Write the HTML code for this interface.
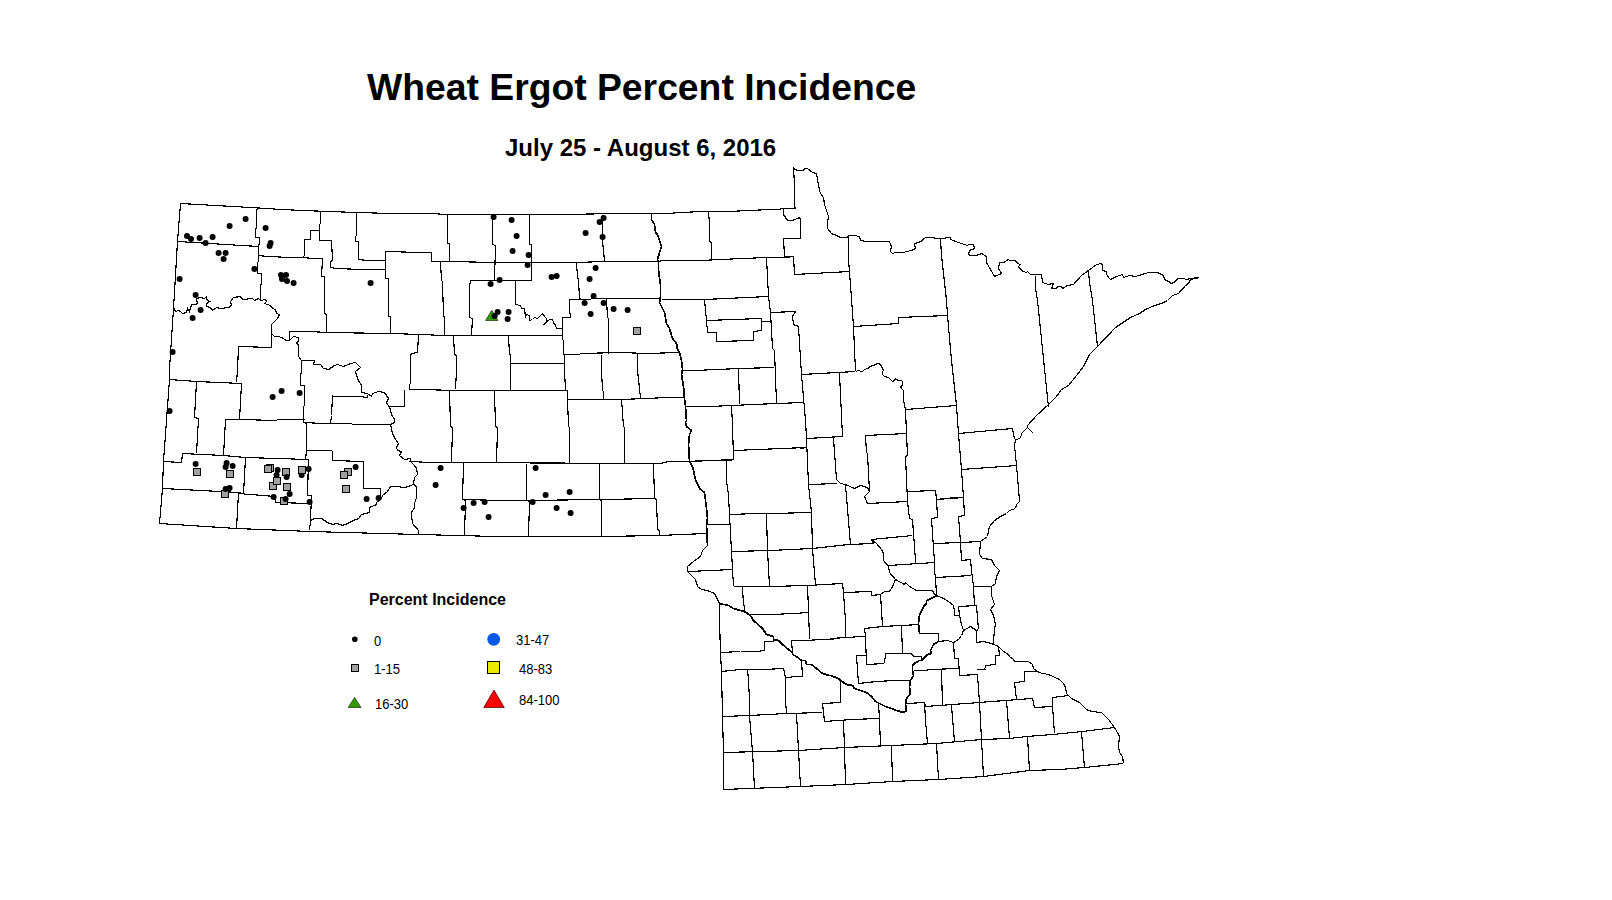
<!DOCTYPE html>
<html><head><meta charset="utf-8"><style>
html,body{margin:0;padding:0;background:#fff;width:1612px;height:900px;overflow:hidden}
.n{font-size:14px;transform:scaleX(0.93);transform-origin:0 0}
.t{position:absolute;font-family:"Liberation Sans",sans-serif;white-space:nowrap;color:#000;line-height:1}
</style></head><body>
<div class="t" id="title" style="left:367px;top:69px;font-size:37.3px;font-weight:bold">Wheat Ergot Percent Incidence</div>
<div class="t" id="sub" style="left:505px;top:136px;font-size:24px;font-weight:bold">July 25 - August 6, 2016</div>
<div class="t" id="lt" style="left:369px;top:592px;font-size:16px;font-weight:bold">Percent Incidence</div>
<div class="t n" style="left:373.6px;top:634px">0</div>
<div class="t n" style="left:374px;top:661.5px">1-15</div>
<div class="t n" style="left:375px;top:697px">16-30</div>
<div class="t n" style="left:516.3px;top:633px">31-47</div>
<div class="t n" style="left:518.7px;top:662px">48-83</div>
<div class="t n" style="left:518.6px;top:693px">84-100</div>
<svg style="position:absolute;left:0;top:0" width="1612" height="900" viewBox="0 0 1612 900">
<path d="M180.5 203.5 L250.5 207.5 L281.5 209.5 L302.5 210.5 L328.5 211.5 L356.5 212.5 L391.5 213.5 L430.5 213.5 L447.5 214.5 L560.5 214.5 L620.5 213.5 L665.5 213.5 L700.5 211.5 L728.5 211.5 L770.5 209.5 L777.5 209.5 L783.5 208.5 L795.5 208.5 M180.5 203.5 L177.5 241.5 L173.5 308.5 L169.5 368.5 L169.5 379.5 L163.5 461.5 L162.5 488.5 L159.5 523.5 M159.5 523.5 L236.5 528.5 L310.5 531.5 L418.5 534.5 L496.5 536.5 L601.5 536.5 L660.5 535.5 L680.5 534.5 L707.5 533.5 M707.5 545.5 L702.5 550.5 L700.5 556.5 L693.5 561.5 L687.5 566.5 L687.5 571.5 L695.5 579.5 L697.5 586.5 L701.5 589.5 L707.5 590.5 L714.5 593.5 L717.5 599.5 L719.5 603.5 M719.5 603.5 L719.5 620.5 L720.5 652.5 L721.5 671.5 L722.5 716.5 L723.5 752.5 L723.5 789.5 M723.5 789.5 L800.5 786.5 L846.5 784.5 L892.5 781.5 L938.5 779.5 L983.5 776.5 L1029.5 770.5 L1059.5 769.5 L1084.5 767.5 L1123.5 763.5 M963.5 630.5 L970.5 626.5 L976.5 630.5 L978.5 629.5 M976.5 630.5 L976.5 642.5 L983.5 641.5 L991.5 643.5 L998.5 646.5 L1003.5 651.5 L1008.5 654.5 L1009.5 656.5 L1013.5 659.5 L1014.5 661.5 L1028.5 661.5 L1032.5 664.5 L1033.5 668.5 L1038.5 672.5 L1048.5 674.5 L1059.5 679.5 L1063.5 683.5 L1065.5 687.5 L1066.5 693.5 L1071.5 698.5 L1079.5 702.5 L1086.5 709.5 L1091.5 711.5 L1101.5 712.5 L1108.5 719.5 L1114.5 727.5 L1118.5 734.5 L1119.5 736.5 L1118.5 745.5 L1119.5 752.5 L1122.5 756.5 L1123.5 763.5 M993.5 643.5 L993.5 641.5 L994.5 629.5 L995.5 624.5 L993.5 615.5 L990.5 609.5 L994.5 604.5 L991.5 595.5 L991.5 586.5 L995.5 583.5 L996.5 576.5 L999.5 570.5 L994.5 565.5 L991.5 559.5 L982.5 558.5 L979.5 554.5 L980.5 541.5 L987.5 536.5 L989.5 526.5 L994.5 520.5 L1000.5 516.5 L1006.5 513.5 L1009.5 510.5 L1015.5 508.5 L1016.5 504.5 L1019.5 501.5 L1019.5 500.5 L1016.5 465.5 L1014.5 445.5 L1015.5 439.5 L1020.5 438.5 L1021.5 433.5 L1027.5 427.5 L1030.5 430.5 L1033.5 433.5 M1027.5 427.5 L1027.5 425.5 L1036.5 415.5 L1048.5 404.5 L1056.5 396.5 L1061.5 389.5 L1068.5 385.5 L1076.5 375.5 L1083.5 366.5 L1089.5 354.5 L1097.5 346.5 L1115.5 327.5 L1130.5 317.5 L1139.5 313.5 L1145.5 309.5 L1154.5 305.5 L1161.5 303.5 L1167.5 300.5 L1172.5 295.5 L1178.5 293.5 L1185.5 285.5 L1188.5 283.5 L1190.5 279.5 L1199.5 277.5 M795.5 208.5 L794.5 206.5 L794.5 184.5 L793.5 167.5 L794.5 169.5 L798.5 170.5 L803.5 170.5 L804.5 168.5 L807.5 168.5 L812.5 172.5 L816.5 173.5 L819.5 190.5 L820.5 193.5 L823.5 197.5 L824.5 204.5 L828.5 216.5 L827.5 222.5 L827.5 228.5 L831.5 233.5 L836.5 235.5 L840.5 237.5 L847.5 237.5 L848.5 235.5 L854.5 235.5 L859.5 236.5 L860.5 240.5 L865.5 241.5 L889.5 241.5 L891.5 246.5 L890.5 251.5 L892.5 253.5 L895.5 252.5 L903.5 252.5 L906.5 251.5 L911.5 250.5 L915.5 248.5 L914.5 243.5 L918.5 242.5 L922.5 240.5 L923.5 238.5 L926.5 237.5 L934.5 237.5 L934.5 238.5 L940.5 238.5 L950.5 237.5 L950.5 239.5 L958.5 242.5 L967.5 245.5 L968.5 244.5 L973.5 244.5 L974.5 248.5 L969.5 250.5 L968.5 254.5 L970.5 255.5 L976.5 255.5 L981.5 253.5 L986.5 256.5 L986.5 262.5 L990.5 269.5 L994.5 276.5 L1001.5 273.5 L998.5 268.5 L999.5 262.5 L1003.5 262.5 L1008.5 259.5 L1009.5 260.5 L1015.5 260.5 L1017.5 263.5 L1020.5 264.5 L1018.5 266.5 L1020.5 269.5 L1023.5 271.5 L1026.5 272.5 L1027.5 271.5 L1030.5 274.5 L1041.5 274.5 L1042.5 282.5 L1048.5 284.5 L1053.5 283.5 L1051.5 288.5 L1055.5 288.5 L1058.5 286.5 L1061.5 286.5 L1062.5 288.5 L1067.5 285.5 L1073.5 284.5 L1081.5 275.5 L1088.5 270.5 L1096.5 264.5 L1101.5 263.5 L1102.5 265.5 L1102.5 270.5 L1106.5 271.5 L1106.5 274.5 L1109.5 278.5 L1110.5 279.5 L1116.5 276.5 L1122.5 274.5 L1123.5 277.5 L1129.5 275.5 L1135.5 276.5 L1148.5 272.5 L1157.5 272.5 L1163.5 275.5 L1164.5 279.5 L1168.5 281.5 L1171.5 283.5 L1175.5 281.5 L1176.5 279.5 L1178.5 278.5 L1183.5 278.5 L1186.5 279.5 L1190.5 278.5 L1199.5 277.5 M177.5 241.5 L258.5 246.5 M257.5 208.5 L256.5 210.5 L256.5 228.5 L255.5 228.5 L255.5 237.5 L259.5 237.5 L259.5 244.5 L258.5 244.5 L258.5 255.5 L258.5 261.5 L257.5 262.5 L257.5 273.5 L261.5 273.5 L261.5 284.5 L260.5 284.5 L260.5 300.5 M258.5 255.5 L267.5 256.5 L290.5 257.5 L303.5 257.5 L312.5 258.5 L322.5 258.5 M320.5 210.5 L320.5 223.5 L319.5 224.5 L319.5 230.5 L310.5 230.5 L310.5 239.5 L304.5 239.5 L304.5 254.5 L303.5 257.5 M319.5 230.5 L319.5 240.5 L331.5 240.5 L332.5 260.5 L330.5 261.5 L330.5 267.5 L335.5 268.5 L362.5 269.5 L385.5 269.5 M356.5 212.5 L356.5 235.5 L355.5 236.5 L355.5 241.5 L358.5 241.5 L358.5 259.5 L367.5 260.5 L385.5 260.5 M385.5 251.5 L385.5 278.5 L388.5 278.5 L388.5 292.5 L388.5 316.5 L390.5 316.5 L390.5 333.5 M385.5 251.5 L420.5 252.5 L431.5 252.5 L431.5 261.5 L449.5 261.5 L494.5 262.5 L531.5 262.5 L576.5 262.5 L604.5 261.5 L620.5 261.5 L657.5 261.5 M322.5 258.5 L321.5 276.5 L324.5 276.5 L324.5 313.5 L326.5 314.5 L326.5 332.5 M289.5 340.5 L289.5 331.5 L310.5 331.5 L326.5 332.5 L390.5 333.5 L420.5 334.5 L443.5 335.5 L471.5 335.5 L508.5 335.5 L562.5 335.5 M173.5 307.5 L175.5 311.5 L178.5 310.5 L180.5 311.5 L182.5 313.5 L186.5 312.5 L187.5 308.5 L189.5 311.5 L191.5 304.5 L194.5 304.5 L196.5 304.5 L197.5 302.5 L196.5 300.5 L196.5 298.5 L200.5 297.5 L204.5 298.5 L206.5 296.5 L206.5 299.5 L209.5 301.5 L206.5 303.5 L206.5 306.5 L210.5 307.5 L212.5 310.5 L216.5 307.5 L220.5 308.5 L228.5 307.5 L231.5 305.5 L230.5 301.5 L233.5 297.5 L240.5 296.5 L242.5 299.5 L252.5 298.5 L254.5 300.5 L258.5 298.5 L260.5 300.5 L265.5 299.5 L266.5 301.5 L264.5 303.5 L270.5 305.5 L272.5 308.5 L275.5 309.5 L276.5 313.5 L279.5 314.5 L277.5 318.5 L275.5 320.5 L271.5 324.5 L271.5 333.5 L274.5 336.5 L278.5 336.5 L281.5 337.5 L286.5 340.5 L289.5 340.5 L293.5 336.5 L298.5 337.5 L298.5 341.5 L296.5 342.5 L298.5 345.5 L298.5 356.5 L301.5 360.5 L314.5 360.5 L313.5 364.5 L320.5 364.5 L323.5 368.5 L328.5 369.5 L334.5 365.5 L337.5 364.5 L343.5 366.5 L350.5 363.5 L355.5 362.5 L360.5 367.5 L355.5 371.5 L356.5 375.5 L358.5 380.5 L361.5 385.5 L361.5 392.5 L367.5 393.5 L371.5 396.5 L372.5 393.5 L378.5 391.5 L384.5 392.5 L388.5 398.5 L386.5 402.5 L389.5 407.5 L390.5 409.5 L391.5 414.5 L394.5 419.5 L394.5 422.5 L390.5 424.5 L391.5 428.5 L392.5 433.5 L394.5 437.5 L395.5 439.5 L398.5 443.5 L396.5 447.5 L397.5 450.5 L401.5 451.5 L399.5 455.5 L404.5 459.5 L410.5 458.5 L410.5 461.5 L414.5 465.5 L416.5 468.5 L417.5 474.5 L414.5 477.5 L413.5 484.5 L405.5 487.5 L395.5 486.5 L390.5 486.5 L387.5 491.5 L382.5 495.5 L381.5 498.5 L376.5 502.5 L376.5 504.5 L369.5 507.5 L369.5 512.5 L361.5 514.5 L358.5 518.5 L353.5 520.5 L347.5 523.5 L342.5 525.5 L337.5 523.5 L332.5 524.5 L327.5 522.5 L321.5 518.5 L314.5 518.5 L310.5 520.5 M271.5 324.5 L271.5 347.5 L238.5 346.5 L237.5 370.5 L236.5 382.5 M301.5 360.5 L301.5 373.5 L300.5 373.5 L300.5 385.5 L304.5 385.5 L304.5 405.5 L303.5 406.5 L303.5 422.5 L306.5 423.5 L306.5 445.5 L306.5 450.5 L305.5 459.5 M418.5 334.5 L417.5 352.5 L411.5 353.5 L410.5 355.5 L410.5 383.5 L409.5 384.5 L409.5 389.5 L420.5 389.5 L456.5 390.5 L510.5 390.5 L567.5 390.5 M447.5 214.5 L447.5 243.5 L449.5 243.5 L449.5 261.5 M492.5 214.5 L492.5 244.5 L495.5 245.5 L494.5 280.5 M529.5 214.5 L529.5 244.5 L531.5 244.5 L531.5 280.5 M470.5 280.5 L531.5 280.5 M470.5 280.5 L469.5 286.5 L469.5 317.5 L472.5 318.5 L471.5 335.5 M440.5 262.5 L441.5 280.5 L442.5 281.5 L443.5 316.5 L444.5 316.5 L444.5 335.5 M515.5 280.5 L515.5 304.5 L520.5 305.5 L521.5 308.5 L524.5 308.5 L525.5 317.5 L526.5 314.5 L529.5 315.5 L529.5 320.5 L532.5 319.5 L534.5 317.5 L537.5 318.5 L540.5 315.5 L542.5 313.5 L544.5 316.5 L546.5 318.5 L546.5 322.5 L543.5 324.5 L549.5 319.5 L552.5 319.5 L553.5 322.5 L555.5 325.5 L556.5 328.5 L562.5 328.5 M562.5 328.5 L562.5 317.5 L570.5 317.5 L570.5 313.5 L569.5 313.5 L569.5 299.5 L590.5 299.5 L591.5 298.5 L660.5 298.5 M562.5 328.5 L562.5 339.5 L563.5 340.5 L563.5 343.5 L563.5 354.5 L579.5 354.5 L580.5 353.5 L620.5 352.5 L646.5 353.5 L679.5 352.5 M576.5 262.5 L577.5 276.5 L578.5 280.5 L579.5 297.5 L580.5 299.5 M602.5 214.5 L602.5 240.5 L604.5 261.5 M606.5 299.5 L607.5 317.5 L608.5 318.5 L608.5 353.5 M453.5 335.5 L454.5 354.5 L456.5 355.5 L456.5 370.5 L455.5 389.5 M508.5 335.5 L509.5 354.5 L510.5 354.5 L510.5 363.5 L510.5 390.5 M510.5 363.5 L564.5 363.5 M564.5 354.5 L564.5 370.5 L565.5 390.5 M601.5 354.5 L601.5 370.5 L602.5 390.5 L603.5 391.5 L603.5 399.5 M637.5 353.5 L637.5 370.5 L639.5 388.5 L640.5 398.5 M567.5 390.5 L567.5 399.5 L621.5 399.5 L668.5 397.5 L683.5 397.5 M682.5 370.5 L694.5 370.5 L739.5 368.5 L774.5 367.5 M685.5 406.5 L710.5 406.5 L731.5 405.5 L776.5 403.5 L803.5 402.5 M169.5 379.5 L196.5 381.5 L241.5 383.5 M241.5 383.5 L239.5 419.5 M196.5 381.5 L194.5 417.5 L198.5 418.5 L196.5 453.5 M225.5 419.5 L239.5 419.5 L276.5 420.5 L277.5 419.5 L304.5 419.5 M225.5 419.5 L223.5 455.5 M182.5 453.5 L223.5 455.5 L245.5 457.5 L308.5 459.5 M182.5 453.5 L181.5 462.5 L163.5 461.5 M245.5 457.5 L243.5 493.5 M162.5 488.5 L238.5 492.5 L243.5 493.5 M238.5 492.5 L236.5 528.5 M238.5 493.5 L274.5 496.5 L275.5 502.5 L310.5 503.5 M308.5 459.5 L307.5 495.5 L311.5 495.5 L310.5 520.5 L309.5 530.5 M306.5 450.5 L331.5 450.5 L332.5 451.5 L332.5 460.5 L363.5 461.5 L363.5 488.5 L380.5 488.5 L380.5 497.5 M404.5 389.5 L404.5 406.5 L389.5 406.5 M303.5 422.5 L323.5 423.5 L330.5 423.5 L351.5 423.5 L352.5 424.5 L390.5 424.5 M332.5 395.5 L331.5 415.5 L330.5 423.5 M332.5 396.5 L363.5 396.5 L363.5 397.5 L367.5 397.5 L367.5 394.5 M409.5 461.5 L430.5 462.5 L660.5 463.5 L668.5 461.5 L689.5 461.5 M413.5 484.5 L416.5 486.5 L416.5 497.5 L414.5 503.5 L414.5 507.5 L411.5 512.5 L411.5 515.5 L412.5 523.5 L418.5 530.5 L418.5 534.5 M449.5 390.5 L450.5 426.5 L452.5 427.5 L451.5 462.5 M494.5 391.5 L495.5 426.5 L497.5 427.5 L496.5 463.5 M567.5 399.5 L568.5 426.5 L569.5 427.5 L569.5 463.5 M621.5 399.5 L623.5 426.5 L624.5 427.5 L624.5 462.5 M463.5 463.5 L462.5 499.5 L465.5 500.5 L464.5 535.5 M526.5 463.5 L526.5 500.5 L529.5 501.5 L528.5 536.5 M599.5 463.5 L599.5 499.5 L601.5 500.5 L601.5 536.5 M653.5 463.5 L654.5 498.5 L656.5 499.5 L657.5 529.5 L659.5 530.5 L659.5 535.5 M462.5 499.5 L502.5 500.5 L526.5 500.5 L599.5 499.5 L656.5 498.5 M783.5 208.5 L783.5 214.5 L787.5 220.5 L792.5 220.5 L799.5 217.5 L800.5 219.5 L800.5 238.5 L783.5 238.5 L784.5 256.5 L793.5 256.5 L794.5 274.5 L849.5 271.5 M848.5 235.5 L848.5 260.5 L849.5 271.5 L853.5 326.5 L855.5 371.5 M940.5 238.5 L941.5 255.5 L946.5 300.5 L947.5 315.5 L951.5 360.5 L956.5 405.5 L958.5 433.5 L961.5 469.5 L963.5 497.5 M853.5 326.5 L898.5 323.5 L898.5 317.5 L947.5 315.5 M708.5 211.5 L709.5 223.5 L709.5 241.5 L711.5 242.5 L711.5 259.5 M657.5 261.5 L663.5 260.5 L700.5 260.5 L720.5 259.5 L766.5 257.5 L784.5 257.5 L793.5 256.5 M766.5 257.5 L768.5 296.5 L770.5 312.5 L772.5 348.5 L774.5 350.5 L776.5 403.5 M661.5 299.5 L695.5 299.5 L704.5 299.5 L768.5 296.5 M704.5 299.5 L706.5 320.5 L707.5 332.5 L716.5 332.5 L716.5 341.5 L753.5 340.5 L753.5 331.5 L761.5 330.5 L761.5 318.5 L706.5 320.5 M761.5 321.5 L770.5 321.5 M770.5 312.5 L795.5 311.5 L792.5 316.5 L793.5 324.5 L798.5 326.5 L801.5 374.5 L805.5 420.5 M855.5 372.5 L857.5 370.5 L862.5 371.5 L864.5 369.5 L867.5 368.5 L870.5 366.5 L875.5 364.5 L877.5 363.5 L879.5 363.5 L881.5 366.5 L883.5 370.5 L882.5 371.5 L882.5 374.5 L884.5 376.5 L888.5 377.5 L892.5 381.5 L894.5 380.5 L895.5 378.5 L896.5 379.5 L898.5 380.5 L901.5 380.5 L902.5 381.5 L902.5 385.5 L900.5 386.5 L901.5 388.5 L903.5 390.5 L903.5 400.5 L905.5 409.5 L906.5 433.5 M905.5 409.5 L956.5 405.5 M958.5 433.5 L1012.5 428.5 L1014.5 439.5 M961.5 469.5 L1016.5 465.5 M801.5 374.5 L855.5 371.5 M738.5 368.5 L739.5 404.5 M731.5 405.5 L732.5 424.5 L733.5 459.5 L689.5 461.5 M733.5 450.5 L806.5 447.5 M839.5 373.5 L842.5 436.5 L806.5 438.5 M805.5 420.5 L806.5 438.5 L808.5 484.5 L811.5 512.5 L812.5 548.5 L815.5 584.5 M800.5 448.5 L806.5 447.5 M689.5 461.5 L702.5 460.5 L731.5 460.5 M726.5 460.5 L726.5 480.5 L728.5 495.5 L729.5 514.5 L731.5 551.5 L733.5 586.5 M833.5 438.5 L836.5 479.5 L840.5 483.5 L845.5 484.5 L854.5 488.5 L860.5 485.5 L867.5 487.5 L869.5 491.5 L864.5 496.5 L867.5 503.5 M808.5 484.5 L837.5 483.5 M845.5 485.5 L850.5 544.5 M865.5 435.5 L906.5 433.5 M865.5 435.5 L866.5 452.5 L867.5 453.5 L869.5 491.5 M906.5 433.5 L907.5 455.5 L905.5 456.5 L907.5 501.5 L909.5 518.5 L912.5 519.5 L915.5 560.5 L915.5 563.5 M867.5 503.5 L907.5 501.5 M908.5 491.5 L935.5 490.5 L936.5 499.5 L963.5 497.5 M936.5 499.5 L937.5 517.5 L931.5 518.5 L934.5 562.5 L934.5 570.5 L935.5 577.5 L936.5 595.5 M706.5 524.5 L729.5 524.5 M729.5 514.5 L756.5 513.5 L770.5 513.5 L811.5 512.5 M766.5 514.5 L767.5 550.5 L769.5 586.5 M731.5 551.5 L770.5 550.5 L812.5 548.5 L848.5 544.5 L873.5 543.5 L871.5 539.5 L912.5 535.5 M871.5 539.5 L876.5 543.5 L881.5 549.5 L883.5 553.5 L883.5 560.5 L888.5 566.5 L889.5 572.5 L895.5 579.5 L904.5 584.5 L905.5 582.5 L909.5 586.5 L916.5 590.5 L923.5 590.5 L932.5 590.5 L934.5 594.5 L936.5 595.5 M888.5 565.5 L934.5 562.5 M688.5 571.5 L732.5 569.5 M733.5 586.5 L770.5 586.5 L807.5 585.5 L842.5 583.5 M742.5 587.5 L743.5 604.5 L744.5 606.5 L744.5 611.5 M750.5 614.5 L771.5 614.5 L793.5 613.5 L808.5 612.5 M807.5 585.5 L808.5 610.5 L809.5 639.5 M842.5 583.5 L843.5 592.5 L845.5 620.5 L845.5 637.5 M843.5 592.5 L871.5 591.5 L871.5 595.5 L880.5 594.5 L884.5 591.5 L889.5 591.5 L892.5 586.5 L895.5 579.5 M936.5 595.5 L943.5 598.5 L948.5 601.5 L953.5 605.5 L954.5 610.5 L954.5 615.5 L959.5 615.5 L961.5 624.5 L963.5 630.5 L961.5 635.5 L958.5 639.5 L953.5 642.5 L947.5 640.5 L938.5 641.5 M935.5 577.5 L971.5 575.5 M963.5 497.5 L964.5 515.5 L958.5 516.5 L960.5 542.5 L961.5 560.5 L970.5 559.5 L971.5 570.5 L973.5 586.5 L974.5 605.5 M973.5 586.5 L991.5 586.5 M958.5 606.5 L976.5 605.5 L978.5 629.5 M958.5 606.5 L959.5 615.5 M933.5 543.5 L960.5 542.5 L980.5 541.5 M880.5 594.5 L882.5 626.5 M830.5 638.5 L861.5 636.5 L865.5 636.5 M864.5 628.5 L882.5 626.5 L901.5 625.5 L919.5 624.5 M882.5 620.5 L882.5 626.5 M864.5 628.5 L865.5 636.5 L866.5 664.5 L884.5 663.5 L885.5 653.5 L902.5 653.5 L911.5 653.5 L913.5 656.5 L921.5 656.5 L921.5 660.5 M901.5 625.5 L902.5 653.5 M856.5 655.5 L866.5 655.5 M856.5 655.5 L858.5 683.5 L876.5 681.5 L894.5 680.5 L910.5 680.5 M913.5 670.5 L924.5 670.5 L930.5 669.5 L958.5 668.5 M953.5 642.5 L954.5 658.5 L958.5 658.5 L959.5 675.5 L977.5 674.5 L979.5 702.5 L981.5 739.5 L983.5 776.5 M976.5 669.5 L985.5 669.5 M998.5 646.5 L999.5 655.5 L995.5 655.5 L995.5 664.5 L985.5 665.5 L984.5 670.5 M791.5 640.5 L803.5 640.5 L824.5 639.5 L840.5 638.5 M791.5 640.5 L792.5 652.5 M740.5 651.5 L756.5 651.5 L764.5 650.5 L764.5 641.5 L773.5 641.5 L773.5 636.5 M720.5 652.5 L740.5 651.5 M721.5 671.5 L740.5 669.5 L764.5 669.5 L783.5 668.5 L785.5 677.5 L797.5 676.5 L802.5 676.5 L801.5 660.5 M747.5 669.5 L748.5 680.5 L749.5 700.5 L749.5 715.5 L752.5 751.5 L754.5 788.5 M785.5 677.5 L785.5 700.5 L786.5 713.5 M722.5 716.5 L749.5 715.5 L786.5 713.5 L822.5 712.5 M796.5 713.5 L798.5 750.5 L800.5 786.5 M840.5 681.5 L840.5 702.5 L822.5 703.5 L824.5 721.5 L851.5 719.5 L879.5 718.5 M843.5 721.5 L844.5 747.5 L845.5 784.5 M723.5 752.5 L798.5 750.5 L844.5 747.5 L891.5 745.5 L936.5 743.5 L981.5 739.5 L1009.5 738.5 L1026.5 736.5 L1052.5 734.5 L1082.5 731.5 L1114.5 727.5 M878.5 702.5 L879.5 720.5 L880.5 745.5 M891.5 746.5 L892.5 781.5 M906.5 703.5 L924.5 702.5 L925.5 706.5 L979.5 702.5 L990.5 701.5 L1006.5 700.5 L1017.5 699.5 L1032.5 698.5 L1034.5 707.5 L1052.5 706.5 L1052.5 697.5 L1068.5 695.5 M924.5 702.5 L925.5 720.5 L927.5 743.5 M936.5 743.5 L938.5 779.5 M951.5 705.5 L954.5 741.5 M941.5 669.5 L942.5 705.5 M1006.5 700.5 L1009.5 738.5 M1027.5 736.5 L1029.5 770.5 M1052.5 706.5 L1054.5 733.5 M1081.5 731.5 L1084.5 767.5 M1038.5 671.5 L1024.5 671.5 L1024.5 681.5 L1014.5 682.5 L1016.5 699.5 M940.5 498.5 L963.5 497.5 M1035.5 275.5 L1035.5 288.5 L1037.5 300.5 L1048.5 407.5 M1088.5 270.5 L1089.5 282.5 L1092.5 300.5 L1097.5 346.5" fill="none" stroke="#000" stroke-width="1.15" shape-rendering="crispEdges"/>
<path d="M651.5 213.5 L651.5 219.5 L654.5 224.5 L655.5 232.5 L657.5 234.5 L661.5 246.5 L659.5 252.5 L657.5 259.5 L658.5 262.5 L658.5 269.5 L659.5 278.5 L660.5 284.5 L660.5 290.5 L660.5 296.5 L659.5 302.5 L664.5 312.5 L666.5 323.5 L669.5 328.5 L672.5 338.5 L676.5 343.5 L677.5 349.5 L679.5 352.5 L681.5 360.5 L682.5 369.5 L681.5 374.5 L683.5 386.5 L684.5 398.5 L685.5 406.5 L686.5 420.5 L685.5 422.5 L686.5 426.5 L691.5 430.5 L689.5 434.5 L688.5 444.5 L689.5 461.5 L692.5 466.5 L695.5 479.5 L699.5 488.5 L704.5 492.5 L706.5 508.5 L707.5 518.5 L706.5 524.5 L707.5 545.5 M719.5 603.5 L728.5 605.5 L733.5 608.5 L740.5 610.5 L744.5 611.5 L750.5 615.5 L753.5 620.5 L762.5 628.5 L766.5 634.5 L773.5 636.5 L773.5 639.5 L778.5 640.5 L782.5 644.5 L788.5 649.5 L792.5 652.5 L792.5 654.5 L796.5 656.5 L801.5 660.5 L805.5 660.5 L806.5 664.5 L811.5 664.5 L816.5 668.5 L822.5 673.5 L829.5 675.5 L830.5 675.5 L838.5 678.5 L840.5 680.5 L846.5 684.5 L852.5 685.5 L854.5 688.5 L866.5 692.5 L871.5 696.5 L875.5 701.5 L879.5 703.5 L885.5 706.5 L891.5 708.5 L896.5 710.5 L903.5 712.5 L906.5 710.5 L905.5 703.5 L906.5 698.5 L910.5 693.5 L909.5 686.5 L910.5 680.5 L913.5 675.5 L912.5 670.5 L912.5 665.5 L914.5 663.5 L919.5 660.5 L921.5 660.5 L927.5 654.5 L931.5 653.5 L930.5 650.5 L931.5 648.5 L933.5 644.5 L938.5 641.5 L938.5 633.5 L919.5 633.5 L918.5 623.5 L919.5 614.5 L921.5 611.5 L923.5 606.5 L926.5 603.5 L926.5 600.5 L933.5 597.5 L936.5 595.5" fill="none" stroke="#000" stroke-width="1.7" shape-rendering="crispEdges"/>
<polygon points="491.8,310.3 485.5,320.5 498,320.5" fill="#339900" stroke="#1a3300" stroke-width="0.7"/>
<g fill="#000"><circle cx="301.6" cy="475" r="3"/></g>
<g fill="#a0a0a0" stroke="#000" stroke-width="1" shape-rendering="crispEdges"><rect x="633.5" y="327.5" width="7" height="7"/><rect x="193.5" y="468.5" width="7" height="7"/><rect x="226.5" y="470.5" width="7" height="7"/><rect x="221.5" y="490.5" width="7" height="7"/><rect x="266.5" y="464.5" width="7" height="7"/><rect x="264.5" y="465.5" width="7" height="7"/><rect x="282.5" y="468.5" width="7" height="7"/><rect x="298.5" y="466.5" width="7" height="7"/><rect x="269.5" y="482.5" width="7" height="7"/><rect x="273.5" y="477.5" width="7" height="7"/><rect x="283.5" y="483.5" width="7" height="7"/><rect x="280.5" y="497.5" width="7" height="7"/><rect x="344.5" y="468.5" width="7" height="7"/><rect x="340.5" y="471.5" width="7" height="7"/><rect x="342.5" y="485.5" width="7" height="7"/></g>
<g fill="#000"><circle cx="245.6" cy="219" r="3"/><circle cx="229.6" cy="226" r="3"/><circle cx="187" cy="236" r="3"/><circle cx="191" cy="239" r="3"/><circle cx="199.6" cy="238" r="3"/><circle cx="212.6" cy="237" r="3"/><circle cx="205.6" cy="243" r="3"/><circle cx="265.6" cy="228" r="3"/><circle cx="270.6" cy="243" r="3"/><circle cx="269.6" cy="246" r="3"/><circle cx="218.6" cy="253" r="3"/><circle cx="225.6" cy="253" r="3"/><circle cx="223.6" cy="259" r="3"/><circle cx="254.4" cy="269" r="3"/><circle cx="179.6" cy="279" r="3"/><circle cx="281" cy="275" r="3"/><circle cx="286" cy="275" r="3"/><circle cx="282" cy="279" r="3"/><circle cx="287" cy="281" r="3"/><circle cx="293.6" cy="283" r="3"/><circle cx="370.6" cy="283" r="3"/><circle cx="195.6" cy="295" r="3"/><circle cx="200.6" cy="310" r="3"/><circle cx="192.6" cy="318" r="3"/><circle cx="172.6" cy="352" r="3"/><circle cx="493.6" cy="217" r="3"/><circle cx="511.6" cy="220" r="3"/><circle cx="516.6" cy="236" r="3"/><circle cx="512.6" cy="251" r="3"/><circle cx="528.6" cy="255" r="3"/><circle cx="527.6" cy="265" r="3"/><circle cx="499.6" cy="280" r="3"/><circle cx="490.6" cy="284" r="3"/><circle cx="497.6" cy="312" r="3"/><circle cx="494.6" cy="316" r="3"/><circle cx="508.6" cy="312" r="3"/><circle cx="507.6" cy="319" r="3"/><circle cx="551.6" cy="277" r="3"/><circle cx="556.6" cy="276" r="3"/><circle cx="603.6" cy="218" r="3"/><circle cx="599.6" cy="222" r="3"/><circle cx="585.6" cy="233" r="3"/><circle cx="602.6" cy="237" r="3"/><circle cx="595.6" cy="268" r="3"/><circle cx="589.6" cy="279" r="3"/><circle cx="593.6" cy="296" r="3"/><circle cx="584.6" cy="303" r="3"/><circle cx="603.6" cy="303" r="3"/><circle cx="590.6" cy="314" r="3"/><circle cx="613.6" cy="309" r="3"/><circle cx="627.6" cy="310" r="3"/><circle cx="169.6" cy="411" r="3"/><circle cx="272.6" cy="397" r="3"/><circle cx="281.6" cy="391" r="3"/><circle cx="299.6" cy="393" r="3"/><circle cx="195.6" cy="464" r="3"/><circle cx="226.6" cy="463" r="3"/><circle cx="225.6" cy="467" r="3"/><circle cx="232.6" cy="466" r="3"/><circle cx="277.6" cy="470" r="3"/><circle cx="276.6" cy="475" r="3"/><circle cx="286.6" cy="477" r="3"/><circle cx="308.6" cy="469" r="3"/><circle cx="355.6" cy="467" r="3"/><circle cx="225.6" cy="489" r="3"/><circle cx="229.6" cy="488" r="3"/><circle cx="273.6" cy="497" r="3"/><circle cx="285.6" cy="499" r="3"/><circle cx="289.6" cy="494" r="3"/><circle cx="309.6" cy="502" r="3"/><circle cx="366.6" cy="499" r="3"/><circle cx="378.6" cy="498" r="3"/><circle cx="440.6" cy="468" r="3"/><circle cx="435.6" cy="485" r="3"/><circle cx="463.6" cy="508" r="3"/><circle cx="473.6" cy="503" r="3"/><circle cx="484.6" cy="502" r="3"/><circle cx="488.6" cy="517" r="3"/><circle cx="535.6" cy="468" r="3"/><circle cx="532.6" cy="502" r="3"/><circle cx="545.6" cy="495" r="3"/><circle cx="569.6" cy="492" r="3"/><circle cx="556.6" cy="508" r="3"/><circle cx="570.6" cy="513" r="3"/></g>

<circle cx="354.8" cy="639.3" r="2.8" fill="#000"/>
<rect x="351.5" y="664.5" width="7" height="7" fill="#a0a0a0" stroke="#000" stroke-width="1" shape-rendering="crispEdges"/>
<polygon points="354.6,697.3 348.2,707.5 361,707.5" fill="#339900" stroke="#1a3300" stroke-width="0.7"/>
<circle cx="493.7" cy="639.3" r="6.4" fill="#0a58e8"/>
<rect x="487.5" y="661.5" width="12" height="12" fill="#e8e800" stroke="#000" stroke-width="1" shape-rendering="crispEdges"/>
<polygon points="494,690 483.7,707.5 504.3,707.5" fill="#ff0000" stroke="#330000" stroke-width="0.7"/>

</svg>
</body></html>
